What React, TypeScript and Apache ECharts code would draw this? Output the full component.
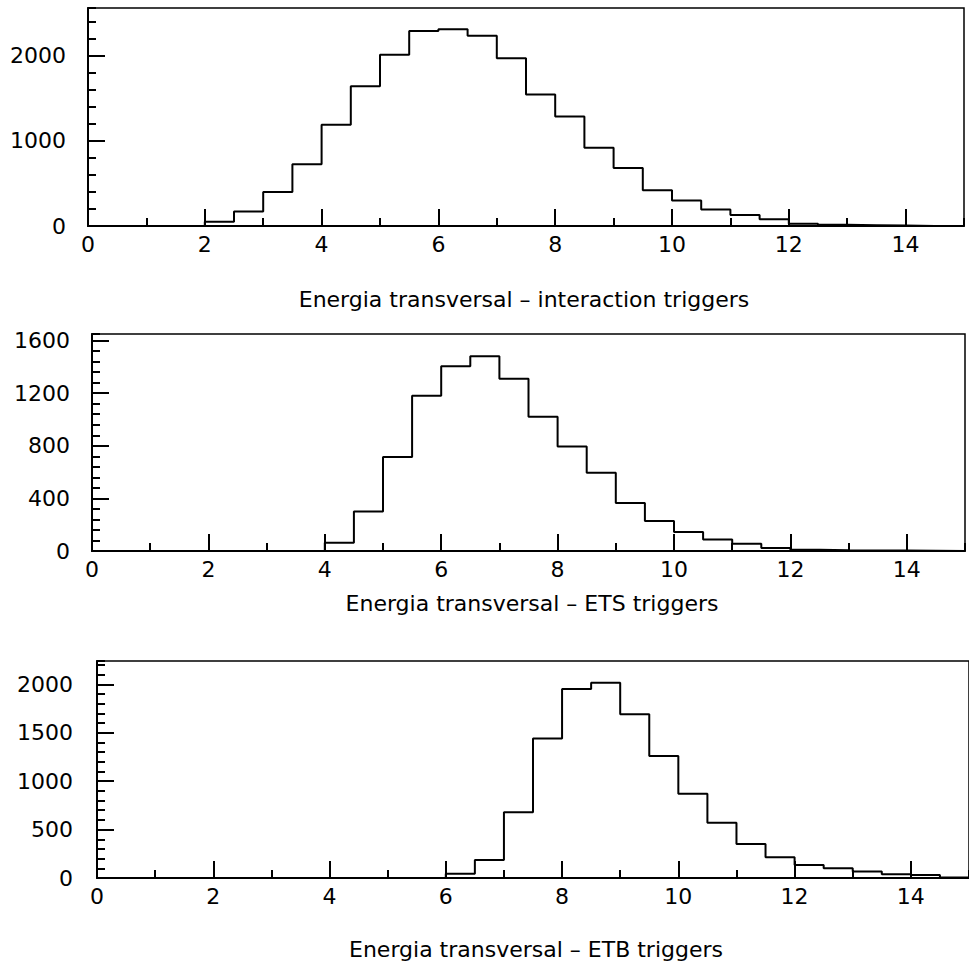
import React, { useEffect, useRef } from "react";
import * as echarts from "echarts";

// Histogram bins: 30 bins of width 0.5 from 0 to 15
const binStart = 0;
const binWidth = 0.5;

const interactionCounts = [
  0, 0, 0, 0, 50, 170, 400, 725, 1190, 1640, 2010, 2290, 2310, 2235, 1970,
  1545, 1285, 920, 680, 420, 300, 195, 130, 80, 25, 15, 10, 5, 0, 0,
];
const etsCounts = [
  0, 0, 0, 0, 0, 0, 0, 0, 63, 300, 715, 1180, 1405, 1480, 1310, 1020, 795,
  595, 365, 228, 145, 88, 55, 22, 10, 6, 4, 3, 2, 0,
];
const etbCounts = [
  0, 0, 0, 0, 0, 0, 0, 0, 0, 0, 0, 0, 45, 185, 680, 1440, 1950, 2015, 1690,
  1260, 870, 570, 350, 215, 135, 100, 68, 40, 32, 5,
];

const titles = [
  "Energia transversal – interaction triggers",
  "Energia transversal – ETS triggers",
  "Energia transversal – ETB triggers",
];

const xMax = 15;
const xMajor = 2;
const xMinor = 1;
const yMaxes = [2560, 1650, 2240];
const yMajors = [1000, 400, 500];
const yMinors = [200, 80, 100];

const FONT = "DejaVu Sans";

function stepData(counts: number[]) {
  const d: number[][] = counts.map((v, i) => [binStart + i * binWidth, v]);
  d.push([binStart + counts.length * binWidth, counts[counts.length - 1]]);
  return d;
}

export default function App() {
  const ref = useRef<HTMLDivElement>(null);
  useEffect(() => {
    if (!ref.current) return;
    const chart = echarts.init(ref.current, null, { renderer: "svg" });
    const grids = [
      { left: 88, top: 8, width: 876, height: 218 },
      { left: 92, top: 334, width: 873, height: 217 },
      { left: 97, top: 661, width: 872, height: 217 },
    ];
    const labelMarginsY = [22, 22, 24];
    const xAxis: any[] = [];
    const yAxis: any[] = [];
    const series: any[] = [];
    const allCounts = [interactionCounts, etsCounts, etbCounts];
    const plain = (v: number) => String(v);
    grids.forEach((g, i) => {
      xAxis.push({
        type: "value",
        gridIndex: i,
        position: "bottom",
        min: 0,
        max: xMax,
        interval: xMajor,
        axisLine: { show: true, lineStyle: { color: "#000", width: 2 } },
        axisTick: { show: true, inside: true, length: 17, lineStyle: { color: "#000", width: 2 } },
        axisLabel: {
          show: true,
          showMaxLabel: false,
          margin: 7,
          color: "#000",
          fontFamily: FONT,
          fontSize: 22,
          formatter: plain,
        },
        splitLine: { show: false },
      });
      xAxis.push({
        type: "value",
        gridIndex: i,
        position: "bottom",
        min: 0,
        max: xMax,
        interval: xMinor,
        axisLine: { show: false },
        axisTick: { show: true, inside: true, length: 8, lineStyle: { color: "#000", width: 2 } },
        axisLabel: { show: false },
        splitLine: { show: false },
      });
      yAxis.push({
        type: "value",
        gridIndex: i,
        position: "left",
        min: 0,
        max: yMaxes[i],
        interval: yMajors[i],
        axisLine: { show: true, lineStyle: { color: "#000", width: 2 } },
        axisTick: { show: true, inside: true, length: 17, lineStyle: { color: "#000", width: 2 } },
        axisLabel: {
          show: true,
          showMaxLabel: false,
          margin: labelMarginsY[i],
          color: "#000",
          fontFamily: FONT,
          fontSize: 22,
          formatter: plain,
        },
        splitLine: { show: false },
      });
      yAxis.push({
        type: "value",
        gridIndex: i,
        position: "left",
        min: 0,
        max: yMaxes[i],
        interval: yMinors[i],
        axisLine: { show: false },
        axisTick: { show: true, inside: true, length: 8, lineStyle: { color: "#000", width: 2 } },
        axisLabel: { show: false },
        splitLine: { show: false },
      });
      series.push({
        type: "line",
        xAxisIndex: i * 2,
        yAxisIndex: i * 2,
        step: "end",
        symbol: "none",
        data: stepData(allCounts[i]),
        lineStyle: { color: "#000", width: 2 },
        silent: true,
      });
    });

    const titleY = [299, 603, 949];
    const titleX = [524, 532, 536];
    const option: any = {
      animation: false,
      backgroundColor: "#fff",
      grid: grids.map((g) => ({
        ...g,
        show: true,
        borderColor: "#000",
        borderWidth: 1.5,
        backgroundColor: "transparent",
      })),
      xAxis,
      yAxis,
      series,
      graphic: titles.map((t, i) => ({
        type: "text",
        x: titleX[i],
        y: titleY[i],
        style: {
          text: t,
          fill: "#000",
          font: `22px "${FONT}"`,
          textAlign: "center",
          textVerticalAlign: "middle",
        },
      })),
    };
    chart.setOption(option);
    return () => chart.dispose();
  }, []);
  return (
    <div
      ref={ref}
      style={{ position: "fixed", left: 0, top: 0, width: 969, height: 965 }}
    />
  );
}
